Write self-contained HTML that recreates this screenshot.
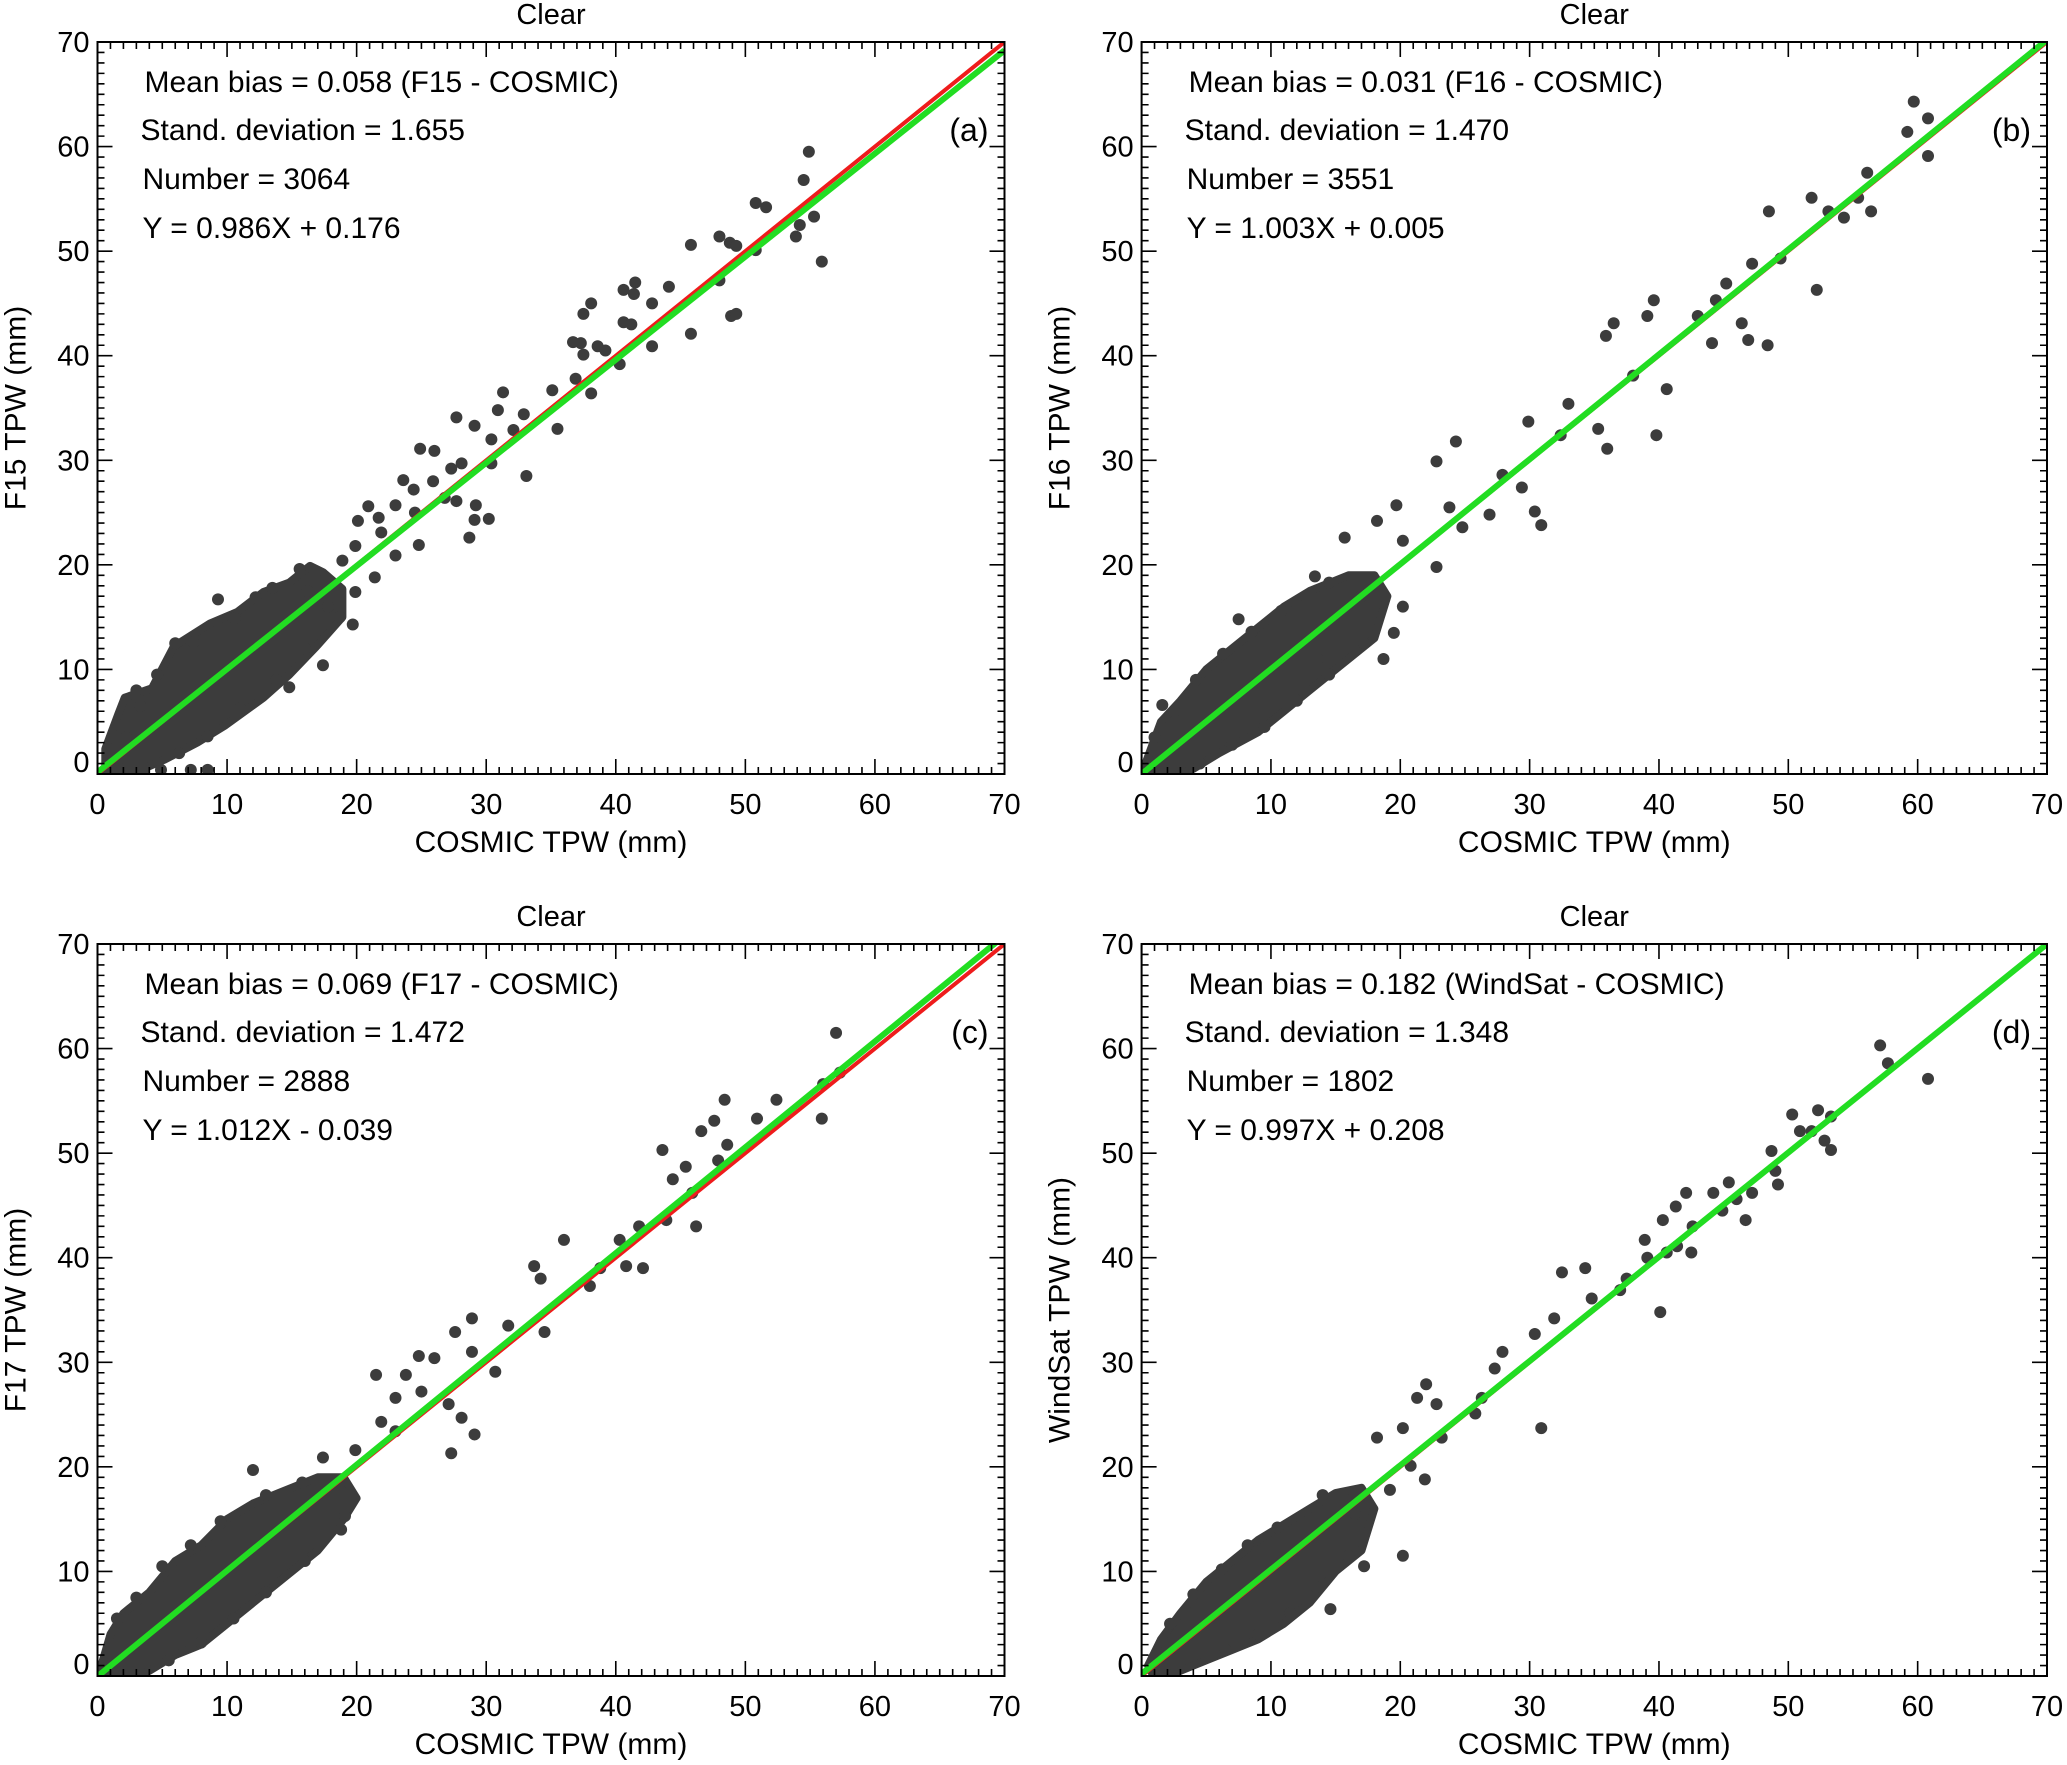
<!DOCTYPE html>
<html><head><meta charset="utf-8">
<style>
html,body{margin:0;padding:0;background:#fff;}
svg{display:block;font-family:"Liberation Sans",Arial,sans-serif;}
</style></head>
<body>
<svg id="chart" width="2067" height="1765" viewBox="0 0 2067 1765" xmlns="http://www.w3.org/2000/svg"></svg>
<script>
// ---- data ----
const axisTicks = [0,10,20,30,40,50,60,70];
const panelLetters = ["(a)","(b)","(c)","(d)"];
const panelTitles = ["Clear","Clear","Clear","Clear"];
const yTitles = ["F15 TPW (mm)","F16 TPW (mm)","F17 TPW (mm)","WindSat TPW (mm)"];
const xTitle = "COSMIC TPW (mm)";
const statLines = [
 ["Mean bias = 0.058 (F15 - COSMIC)","Stand. deviation = 1.655","Number = 3064","Y = 0.986X + 0.176"],
 ["Mean bias = 0.031 (F16 - COSMIC)","Stand. deviation = 1.470","Number = 3551","Y = 1.003X + 0.005"],
 ["Mean bias = 0.069 (F17 - COSMIC)","Stand. deviation = 1.472","Number = 2888","Y = 1.012X - 0.039"],
 ["Mean bias = 0.182 (WindSat - COSMIC)","Stand. deviation = 1.348","Number = 1802","Y = 0.997X + 0.208"]
];
const fitSlope = [0.986,1.003,1.012,0.997];
const fitIntercept = [0.176,0.005,-0.039,0.208];

const pointsA = [[54.9,59.5],[54.5,56.8],[50.8,54.6],[51.6,54.2],[48.0,51.4],[48.8,50.8],[49.3,50.5],[45.8,50.6],[55.3,53.3],[54.2,52.5],[53.9,51.4],[55.9,49.0],[50.8,50.1],[48.0,47.2],[48.9,43.8],[49.3,44.0],[45.8,42.1],[41.5,47.0],[41.4,45.9],[40.6,46.3],[42.8,45.0],[44.1,46.6],[40.6,43.2],[41.2,43.0],[38.1,45.0],[37.5,44.0],[36.7,41.3],[37.3,41.2],[37.5,40.1],[38.6,40.9],[39.2,40.5],[42.8,40.9],[40.3,39.2],[38.1,36.4],[36.9,37.8],[35.1,36.7],[35.5,33.0],[31.3,36.5],[30.9,34.8],[32.1,32.9],[32.9,34.4],[33.1,28.5],[27.7,34.1],[29.1,33.3],[30.4,32.0],[30.4,29.7],[28.1,29.7],[27.3,29.2],[24.9,31.1],[26.0,30.9],[25.9,28.0],[23.6,28.1],[24.4,27.2],[26.8,26.4],[27.7,26.1],[29.2,25.7],[29.1,24.3],[30.2,24.4],[28.7,22.6],[23.0,25.7],[24.5,25.0],[20.9,25.6],[20.1,24.2],[21.7,24.5],[21.9,23.1],[23.0,20.9],[24.8,21.9],[19.9,21.8],[18.9,20.4],[21.4,18.8],[19.9,17.4],[18.7,15.0],[19.7,14.3],[17.4,10.4],[9.3,16.7],[7.2,0.4],[8.5,0.4],[4.9,0.4],[14.8,8.3],[15.6,19.6],[13.5,17.8],[3.0,8.0],[6.0,12.5],[1.0,-0.8],[1.5,1.2],[2.2,3.5],[3.3,6.5],[4.6,9.5],[7.4,12.6],[10.6,14.9],[12.2,16.9],[16.2,17.5],[17.8,16.0],[16.0,12.0],[13.8,9.0],[11.0,6.3],[8.5,3.6],[6.3,2.0],[3.6,0.5]];
const clusterA = [[0.6,2.4],[1.6,5.7],[2.1,7.3],[4.2,8.2],[5.9,12.2],[8.7,14.4],[10.8,15.5],[12.8,17.4],[14.8,18.3],[16.4,19.9],[17.4,19.3],[18.9,17.7],[18.9,15.0],[16.9,12.2],[14.8,9.5],[12.8,7.3],[9.8,4.6],[7.7,3.0],[5.2,1.4],[2.6,0],[0.6,-0.3]];

const pointsB = [[59.7,64.3],[60.8,62.7],[59.2,61.4],[60.8,59.1],[56.1,57.5],[51.8,55.1],[53.1,53.8],[55.4,55.1],[56.4,53.8],[54.3,53.2],[52.2,46.3],[48.5,53.8],[49.4,49.3],[47.2,48.8],[45.2,46.9],[44.4,45.3],[46.4,43.1],[43.0,43.8],[44.1,41.2],[46.9,41.5],[48.4,41.0],[39.6,45.3],[39.1,43.8],[36.5,43.1],[35.9,41.9],[39.8,32.4],[38.0,38.1],[40.6,36.8],[33.0,35.4],[29.9,33.7],[32.4,32.4],[35.3,33.0],[36.0,31.1],[30.9,23.8],[30.4,25.1],[27.9,28.6],[26.9,24.8],[29.4,27.4],[24.3,31.8],[22.8,29.9],[23.8,25.5],[19.7,25.7],[18.2,24.2],[24.8,23.6],[20.2,22.3],[22.8,19.8],[15.7,22.6],[20.2,16.0],[19.5,13.5],[18.7,11.0],[7.5,14.8],[13.4,18.9],[1.6,6.6],[13.6,11.0],[1.0,3.5],[2.5,6.0],[4.2,9.0],[6.3,11.5],[8.5,13.6],[10.8,15.6],[14.5,18.3],[17.0,17.0],[17.2,12.5],[14.5,9.5],[12.0,7.0],[9.5,4.5],[7.0,2.8],[4.5,1.0]];
const clusterB = [[0.3,1],[1.5,5],[3,7],[5,10],[7,12],[9,14],[11,16],[13,17.5],[16,19],[18,19],[19,17],[18,13],[16,11],[13,8],[11,6],[9,4],[6,2],[4,0.5],[2,-0.5],[0.5,-0.5]];

const pointsC = [[57.0,61.5],[57.3,57.7],[56.0,56.6],[55.9,53.3],[52.4,55.1],[50.9,53.3],[48.4,55.1],[47.6,53.1],[46.6,52.1],[48.6,50.8],[47.9,49.3],[45.4,48.7],[43.6,50.3],[44.4,47.5],[45.9,46.2],[46.2,43.0],[43.9,43.6],[41.8,43.0],[40.8,39.2],[42.1,39.0],[40.3,41.7],[38.8,39.0],[38.0,37.3],[36.0,41.7],[33.7,39.2],[34.2,38.0],[34.5,32.9],[31.7,33.5],[30.7,29.1],[28.9,34.2],[27.6,32.9],[28.9,31.0],[26.0,30.4],[24.8,30.6],[23.8,28.8],[21.5,28.8],[25.0,27.2],[27.1,26.0],[28.1,24.7],[29.1,23.1],[27.3,21.3],[23.0,26.6],[21.9,24.3],[23.0,23.4],[19.9,21.6],[19.1,15.3],[12.0,19.7],[17.4,20.9],[1.5,5.5],[3.0,7.5],[5.0,10.5],[7.2,12.5],[9.5,14.8],[13.0,17.3],[15.8,18.5],[18.8,14.0],[16.0,11.0],[13.0,8.0],[10.5,5.5],[8.0,3.2],[5.5,1.5]];
const clusterC = [[0.3,1],[1,4],[2,6],[4,8],[6,11],[8,12.5],[10,15],[12,16.5],[14,17.5],[17,19],[19,19],[20,17],[19,15],[17,12],[14,9],[12,7],[10,5],[8,3],[6,2],[4,0.5],[2,-0.5],[0.5,-0.5]];

const pointsD = [[57.1,60.3],[57.7,58.6],[60.8,57.1],[52.3,54.1],[53.3,53.5],[50.3,53.7],[50.9,52.1],[51.8,52.1],[52.8,51.2],[53.3,50.3],[48.7,50.2],[49.0,48.3],[49.2,47.0],[47.2,46.2],[45.4,47.2],[46.0,45.6],[44.2,46.2],[44.9,44.5],[46.7,43.6],[42.6,43.0],[42.1,46.2],[41.3,44.9],[40.3,43.6],[38.9,41.7],[40.6,40.5],[41.4,41.1],[42.5,40.5],[40.1,34.8],[39.1,40.0],[37.5,38.0],[37.0,36.9],[34.3,39.0],[32.5,38.6],[34.8,36.1],[31.9,34.2],[30.4,32.7],[27.9,31.0],[27.3,29.4],[30.9,23.7],[26.3,26.6],[25.8,25.1],[22.0,27.9],[21.3,26.6],[22.8,26.0],[20.2,23.7],[23.2,22.8],[18.2,22.8],[20.8,20.1],[19.2,17.8],[21.9,18.8],[20.2,11.5],[17.2,10.5],[14.6,6.4],[2.2,5.0],[4.0,7.8],[6.2,10.2],[8.2,12.5],[10.5,14.2],[14.0,17.3],[16.5,15.5],[16.0,11.5],[13.5,8.5],[11.5,6.0],[9.0,4.0],[6.5,2.5]];
const clusterD = [[0.5,1],[1.5,3.5],[3,6],[5,9],[7,11],[9,13],[11,14.5],[13,16],[15,17.5],[17,18],[18,16],[17,12],[15,10],[13,7],[11,5],[9,3.5],[7,2.5],[5,1.5],[3,0.5],[1,-0.2]];

const allPoints = [pointsA,pointsB,pointsC,pointsD];
const allClusters = [clusterA,clusterB,clusterC,clusterD];

// ---- layout ----
const NS="http://www.w3.org/2000/svg";
const svg=document.getElementById('chart');
const boxes=[{l:97.5,r:1004.5,t:42,b:774},{l:1141.6,r:2047,t:42,b:774},{l:97.5,r:1004.5,t:944,b:1676},{l:1141.6,r:2047,t:944,b:1676}];
const names=['a','b','c','d'];
function mk(tag,attrs,parent){const e=document.createElementNS(NS,tag);for(const k in attrs)e.setAttribute(k,attrs[k]);(parent||svg).appendChild(e);return e;}

boxes.forEach((B,i)=>{
  const g=mk('g',{});
  
  
  const sx=v=>B.l+(v/70)*(B.r-B.l);
  const sy=v=>B.b-(v/70)*(B.b-B.t);
  const cx=(B.l+B.r)/2, cy=(B.t+B.b)/2;
  const cp=mk('clipPath',{id:'clip'+i},g);
  mk('rect',{x:B.l,y:B.t,width:B.r-B.l,height:B.b-B.t},cp);
  const pg=mk('g',{'clip-path':'url(#clip'+i+')'},g);
  
  
  const cl=allClusters[i].map(p=>sx(p[0]).toFixed(1)+','+sy(p[1]).toFixed(1)).join(' ');
  const poly=mk('polygon',{points:cl,fill:'#3c3c3c',stroke:'#3c3c3c','stroke-width':8,'stroke-linejoin':'round'},pg);
  
  
  allPoints[i].forEach(p=>{
    const c=mk('circle',{cx:sx(p[0]),cy:sy(p[1]),r:6,fill:'#3c3c3c'},pg);
    
    
  });
  const red=mk('line',{x1:sx(0),y1:sy(0),x2:sx(70),y2:sy(70),stroke:'#ee1c1c','stroke-width':4},pg);
  
  
  const gr=mk('line',{x1:sx(0),y1:sy(fitIntercept[i]),x2:sx(70),y2:sy(fitSlope[i]*70+fitIntercept[i]),stroke:'#22dd22','stroke-width':6},pg);
  
  
  const fr=mk('rect',{x:B.l,y:B.t,width:B.r-B.l,height:B.b-B.t,fill:'none',stroke:'#000','stroke-width':2},g);
  
  
  let d='';
  for(let v=0;v<=70;v++){
    const L=(v%10===0)?15:7;
    const x=sx(v),y=sy(v);
    d+=`M${x},${B.b}v${-L}M${x},${B.t}v${L}M${B.l},${y}h${L}M${B.r},${y}h${-L}`;
  }
  const tk=mk('path',{d:d,stroke:'#000','stroke-width':1.6,fill:'none'},g);
  
  
  axisTicks.forEach(v=>{
    const tx=mk('text',{x:sx(v),y:B.b+40,'font-size':29,'text-anchor':'middle'},g);
    tx.textContent=v;
    
    
    const ty=mk('text',{x:B.l-8,y:(v===0?sy(v)-2:sy(v)+10),'font-size':29,'text-anchor':'end'},g);
    ty.textContent=v;
    
    
  });
  const xt=mk('text',{x:cx,y:B.b+78,'font-size':30,'text-anchor':'middle'},g);
  xt.textContent=xTitle;
  
  
  const yx=B.l-72;
  const yt=mk('text',{x:yx,y:cy,'font-size':30,'text-anchor':'middle',transform:`rotate(-90 ${yx} ${cy})`},g);
  yt.textContent=yTitles[i];
  
  
  const tt=mk('text',{x:cx,y:B.t-18,'font-size':29,'text-anchor':'middle'},g);
  tt.textContent=panelTitles[i];
  
  
  const offs=[[47,50],[43,98],[45,147],[45,196]];
  statLines[i].forEach((s,k)=>{
    const st=mk('text',{x:B.l+offs[k][0],y:B.t+offs[k][1],'font-size':30},g);
    st.textContent=s;
    
    
  });
  const lt=mk('text',{x:B.r-16,y:B.t+99,'font-size':32,'text-anchor':'end'},g);
  lt.textContent=panelLetters[i];
  
  
});
</script>
</body></html>
